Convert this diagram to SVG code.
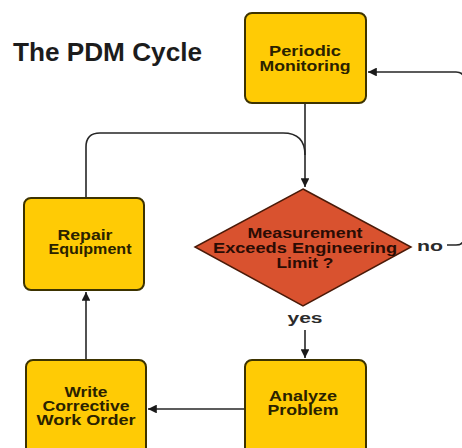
<svg xmlns="http://www.w3.org/2000/svg" width="462" height="448" viewBox="0 0 462 448">
<style>
.box{fill:#FFCB05;stroke:#3d3300;stroke-width:2}
.dia{fill:#D9522F;stroke:#4a1a08;stroke-width:1.5}
.t{font-family:"Liberation Sans",Arial,sans-serif;font-weight:bold;font-size:14px;fill:#2a2200;text-anchor:middle}
.dt{fill:#2a0c04}
.lbl{fill:#2b2b2b}
.title{font-family:"Liberation Sans",Arial,sans-serif;font-weight:bold;font-size:25px;fill:#1c1c1c}
.c{fill:none;stroke:#262626;stroke-width:1.6}
</style>
<defs>
<marker id="ah" viewBox="0 0 10 10" refX="10" refY="5" markerWidth="5.5" markerHeight="5.5" orient="auto" markerUnits="strokeWidth">
<path d="M0,0 L10,5 L0,10 z" fill="#1a1a1a"/>
</marker>
</defs>
<rect width="462" height="448" fill="#ffffff"/>
<text class="title" x="13" y="61" textLength="189" lengthAdjust="spacingAndGlyphs">The PDM Cycle</text>
<g id="connectors">
<path class="c" d="M305,103 V187" marker-end="url(#ah)"/>
<path class="c" d="M86,198 V147 Q86,133 100,133 H283 Q305,133 305,155"/>
<path class="c" d="M447,245 H456 Q464,245 464,237 V80 Q464,72 456,72 H368" marker-end="url(#ah)"/>
<path class="c" d="M305,330 V358" marker-end="url(#ah)"/>
<path class="c" d="M245,409 H148" marker-end="url(#ah)"/>
<path class="c" d="M86,360 V292" marker-end="url(#ah)"/>
<text class="t lbl" x="430" y="251" textLength="26" lengthAdjust="spacingAndGlyphs">no</text>
<text class="t lbl" x="305" y="323" textLength="35" lengthAdjust="spacingAndGlyphs">yes</text>
</g>
<g id="periodic">
<rect class="box" x="245" y="13" width="121" height="90" rx="7"/>
<text class="t" x="305" y="56" textLength="72" lengthAdjust="spacingAndGlyphs">Periodic</text>
<text class="t" x="305" y="71" textLength="91" lengthAdjust="spacingAndGlyphs">Monitoring</text>
</g>
<g id="decision">
<polygon class="dia" points="303,189 411,247 303,306 195,247"/>
<text class="t dt" x="305" y="238" textLength="115" lengthAdjust="spacingAndGlyphs">Measurement</text>
<text class="t dt" x="305" y="253" textLength="184" lengthAdjust="spacingAndGlyphs">Exceeds Engineering</text>
<text class="t dt" x="305" y="268" textLength="57" lengthAdjust="spacingAndGlyphs">Limit ?</text>
</g>
<g id="repair">
<rect class="box" x="24" y="198" width="120" height="92" rx="7"/>
<text class="t" x="85" y="240" textLength="55" lengthAdjust="spacingAndGlyphs">Repair</text>
<text class="t" x="90" y="254" textLength="83" lengthAdjust="spacingAndGlyphs">Equipment</text>
</g>
<g id="analyze">
<rect class="box" x="245" y="360" width="121" height="100" rx="7"/>
<text class="t" x="303" y="401" textLength="68" lengthAdjust="spacingAndGlyphs">Analyze</text>
<text class="t" x="303" y="415" textLength="71" lengthAdjust="spacingAndGlyphs">Problem</text>
</g>
<g id="write">
<rect class="box" x="26" y="360" width="120" height="100" rx="7"/>
<text class="t" x="86" y="397" textLength="43" lengthAdjust="spacingAndGlyphs">Write</text>
<text class="t" x="86" y="411" textLength="87" lengthAdjust="spacingAndGlyphs">Corrective</text>
<text class="t" x="86" y="425" textLength="99" lengthAdjust="spacingAndGlyphs">Work Order</text>
</g>
</svg>
